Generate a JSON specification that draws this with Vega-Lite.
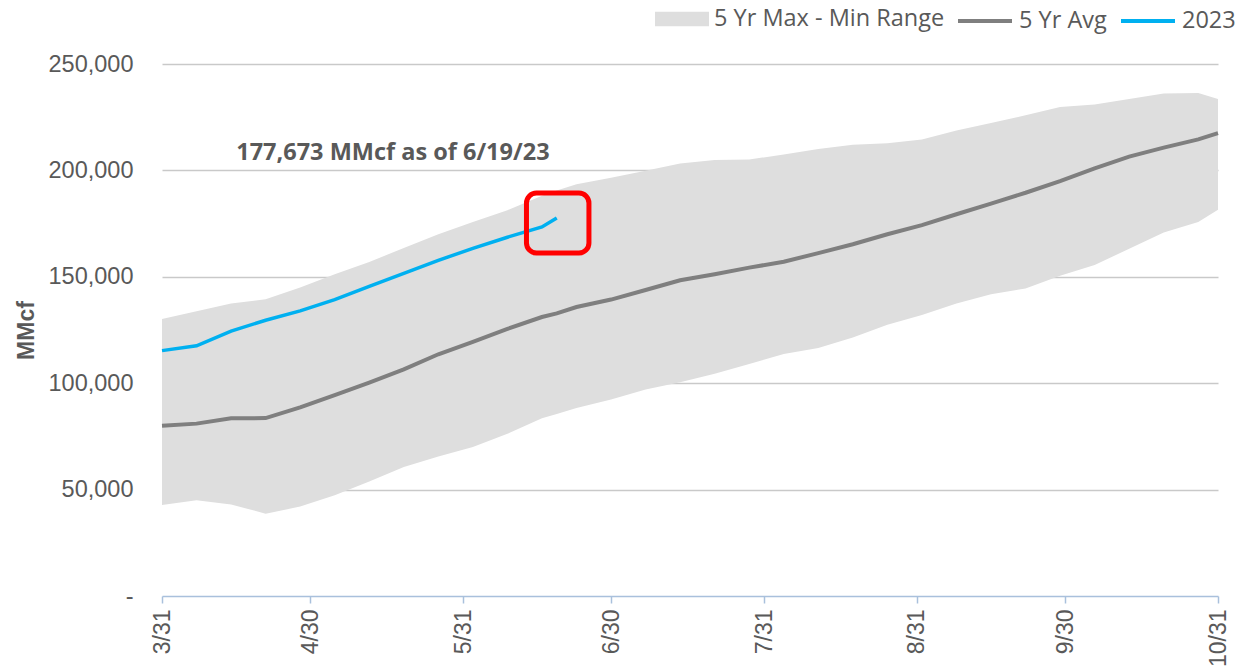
{
  "$schema": "https://vega.github.io/schema/vega-lite/v6.json",
  "width": 1056,
  "height": 532,
  "autosize": {"type": "none"},
  "padding": {"left": 162, "top": 64, "right": 22, "bottom": 72},
  "background": "white",
  "config": {
    "view": {"stroke": null},
    "legend": {
      "title": null,
      "orient": "none",
      "direction": "horizontal",
      "padding": 0,
      "labelFont": "Open Sans",
      "labelFontSize": 23.5,
      "labelColor": "#595959",
      "labelOffset": 5,
      "labelLimit": 0,
      "symbolSize": 2916,
      "legendY": -72
    }
  },
  "resolve": {"scale": {"color": "independent"}, "legend": {"color": "independent"}},
  "data": {
    "values": [
      {"date": "2023-03-31T00:00:00", "max": 130200, "min": 42800, "avg": 80000, "y2023": 115300},
      {"date": "2023-04-07T00:00:00", "max": 133800, "min": 45000, "avg": 81000, "y2023": 117600},
      {"date": "2023-04-14T00:00:00", "max": 137400, "min": 43000, "avg": 83500, "y2023": 124500},
      {"date": "2023-04-21T00:00:00", "max": 139400, "min": 38700, "avg": 83600, "y2023": 129600},
      {"date": "2023-04-28T00:00:00", "max": 145000, "min": 42000, "avg": 88600, "y2023": 134000},
      {"date": "2023-05-05T00:00:00", "max": 151200, "min": 47400, "avg": 94400, "y2023": 139300},
      {"date": "2023-05-12T00:00:00", "max": 157000, "min": 53800, "avg": 100300, "y2023": 145500},
      {"date": "2023-05-19T00:00:00", "max": 163500, "min": 60600, "avg": 106500, "y2023": 151600},
      {"date": "2023-05-26T00:00:00", "max": 170000, "min": 65500, "avg": 113600, "y2023": 157700},
      {"date": "2023-06-02T00:00:00", "max": 175700, "min": 70000, "avg": 119400, "y2023": 163400},
      {"date": "2023-06-09T00:00:00", "max": 181300, "min": 76200, "avg": 125500, "y2023": 168600},
      {"date": "2023-06-16T00:00:00", "max": 188100, "min": 83500, "avg": 131100, "y2023": 173400},
      {"date": "2023-06-19T00:00:00", "max": 190500, "min": 85500, "avg": 132800, "y2023": 177673},
      {"date": "2023-06-23T00:00:00", "max": 193500, "min": 88300, "avg": 135800, "y2023": null},
      {"date": "2023-06-30T00:00:00", "max": 196500, "min": 92300, "avg": 139300, "y2023": null},
      {"date": "2023-07-07T00:00:00", "max": 199800, "min": 97000, "avg": 143800, "y2023": null},
      {"date": "2023-07-14T00:00:00", "max": 203200, "min": 100500, "avg": 148400, "y2023": null},
      {"date": "2023-07-21T00:00:00", "max": 204900, "min": 104400, "avg": 151200, "y2023": null},
      {"date": "2023-07-28T00:00:00", "max": 205100, "min": 109000, "avg": 154300, "y2023": null},
      {"date": "2023-08-04T00:00:00", "max": 207500, "min": 113700, "avg": 157100, "y2023": null},
      {"date": "2023-08-11T00:00:00", "max": 210000, "min": 116600, "avg": 161100, "y2023": null},
      {"date": "2023-08-18T00:00:00", "max": 212100, "min": 121500, "avg": 165300, "y2023": null},
      {"date": "2023-08-25T00:00:00", "max": 212700, "min": 127500, "avg": 170000, "y2023": null},
      {"date": "2023-09-01T00:00:00", "max": 214500, "min": 132000, "avg": 174300, "y2023": null},
      {"date": "2023-09-08T00:00:00", "max": 218800, "min": 137400, "avg": 179400, "y2023": null},
      {"date": "2023-09-15T00:00:00", "max": 222300, "min": 141800, "avg": 184400, "y2023": null},
      {"date": "2023-09-22T00:00:00", "max": 225900, "min": 144500, "avg": 189500, "y2023": null},
      {"date": "2023-09-29T00:00:00", "max": 229800, "min": 150500, "avg": 195000, "y2023": null},
      {"date": "2023-10-06T00:00:00", "max": 231000, "min": 155500, "avg": 201000, "y2023": null},
      {"date": "2023-10-13T00:00:00", "max": 233500, "min": 163200, "avg": 206500, "y2023": null},
      {"date": "2023-10-20T00:00:00", "max": 236100, "min": 170800, "avg": 210700, "y2023": null},
      {"date": "2023-10-27T00:00:00", "max": 236400, "min": 175800, "avg": 214600, "y2023": null},
      {"date": "2023-10-31T00:00:00", "max": 233600, "min": 181500, "avg": 217500, "y2023": null}
    ]
  },
  "layer": [
    {
      "mark": {"type": "area", "opacity": 1},
      "encoding": {
        "x": {
          "field": "date", "type": "temporal",
          "scale": {"domain": [{"year": 2023, "month": 3, "date": 31}, {"year": 2023, "month": 10, "date": 31}]},
          "axis": {
            "title": null,
            "values": [
              {"year": 2023, "month": 3, "date": 31},
              {"year": 2023, "month": 4, "date": 30},
              {"year": 2023, "month": 5, "date": 31},
              {"year": 2023, "month": 6, "date": 30},
              {"year": 2023, "month": 7, "date": 31},
              {"year": 2023, "month": 8, "date": 31},
              {"year": 2023, "month": 9, "date": 30},
              {"year": 2023, "month": 10, "date": 31}
            ],
            "format": "%-m/%-d",
            "labelAngle": -90,
            "labelFont": "Liberation Sans",
            "labelFontSize": 23,
            "labelColor": "#595959",
            "labelPadding": 6,
            "labelFlush": false,
            "labelOverlap": false,
            "labelBound": false,
            "domainColor": "#a9c0dc",
            "domainWidth": 1.5,
            "tickColor": "#a9c0dc",
            "tickWidth": 1.5,
            "tickSize": 7,
            "grid": false
          }
        },
        "y": {
          "field": "max", "type": "quantitative",
          "scale": {"domain": [0, 250000], "nice": false},
          "axis": {
            "title": "MMcf",
            "titleFont": "Liberation Sans",
            "titleFontSize": 23,
            "titleFontWeight": "bold",
            "titleColor": "#595959",
            "titlePadding": 10,
            "values": [0, 50000, 100000, 150000, 200000, 250000],
            "labelExpr": "datum.value === 0 ? '-\u00a0\u00a0\u00a0' : format(datum.value, ',')",
            "labelFont": "Liberation Sans",
            "labelFontSize": 23.5,
            "labelColor": "#595959",
            "labelPadding": 29,
            "ticks": false,
            "domain": false,
            "grid": true,
            "gridColor": {"condition": {"test": "datum.value === 0", "value": "transparent"}, "value": "#c9c9c9"},
            "gridWidth": 1.5
          }
        },
        "y2": {"field": "min"},
        "color": {
          "datum": "5 Yr Max - Min Range",
          "type": "nominal",
          "scale": {"domain": ["5 Yr Max - Min Range"], "range": ["#dedede"]},
          "legend": {
            "legendX": 493,
            "symbolType": "M-1,-0.27H1V0.27H-1Z",
            "symbolFillColor": "#dedede",
            "symbolStrokeWidth": 0,
            "symbolOpacity": 1
          }
        }
      }
    },
    {
      "mark": {"type": "line", "strokeWidth": 4},
      "encoding": {
        "x": {"field": "date", "type": "temporal"},
        "y": {"field": "avg", "type": "quantitative"},
        "color": {
          "datum": "5 Yr Avg", "type": "nominal",
          "scale": {"domain": ["5 Yr Avg"], "range": ["#7f7f7f"]},
          "legend": {"legendX": 794, "symbolType": "stroke", "symbolStrokeWidth": 4, "symbolStrokeColor": "#7f7f7f"}
        }
      }
    },
    {
      "mark": {"type": "line", "strokeWidth": 3.5},
      "encoding": {
        "x": {"field": "date", "type": "temporal"},
        "y": {"field": "y2023", "type": "quantitative"},
        "color": {
          "datum": "2023", "type": "nominal",
          "scale": {"domain": ["2023"], "range": ["#00b0f0"]},
          "legend": {"legendX": 957, "symbolType": "stroke", "symbolStrokeWidth": 4, "symbolStrokeColor": "#00b0f0"}
        }
      }
    },
    {
      "data": {"values": [{"x1": "2023-06-12T20:40:00", "x2": "2023-06-25T12:30:00", "top": 189380, "bottom": 161180}]},
      "mark": {"type": "rect", "filled": false, "stroke": "#ff0000", "strokeWidth": 5, "cornerRadius": 10},
      "encoding": {
        "x": {"field": "x1", "type": "temporal"},
        "x2": {"field": "x2"},
        "y": {"field": "top", "type": "quantitative"},
        "y2": {"field": "bottom"}
      }
    },
    {
      "data": {"values": [{"x": "2023-05-16T19:00:00", "y": 204900, "label": "177,673 MMcf as of 6/19/23"}]},
      "mark": {"type": "text", "font": "Open Sans", "fontWeight": "bold", "fontSize": 23.5, "color": "#595959", "align": "center", "baseline": "alphabetic"},
      "encoding": {
        "x": {"field": "x", "type": "temporal"},
        "y": {"field": "y", "type": "quantitative"},
        "text": {"field": "label"}
      }
    }
  ]
}
